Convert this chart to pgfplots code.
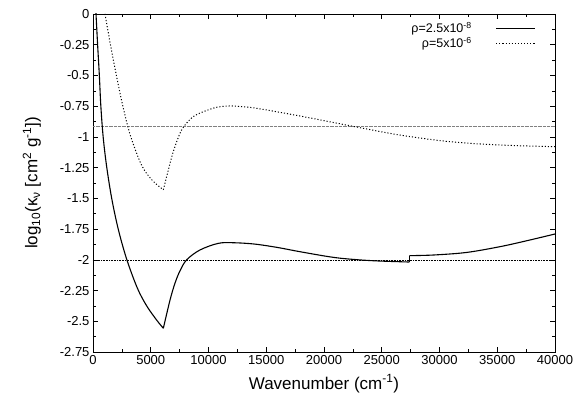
\documentclass[border=0pt]{standalone}
\usepackage{fontspec}
\setmainfont{Liberation Sans}
\usepackage{pgfplots}
\pgfplotsset{compat=1.18}
\begin{document}
\begin{tikzpicture}
\begin{axis}[
  scale only axis,
  width=462pt, height=338pt,
  xmin=0, xmax=40000, ymin=-2.75, ymax=0,
  xtick={0,5000,...,40000},
  ytick={-2.75,-2.5,-2.25,-2,-1.75,-1.5,-1.25,-1,-0.75,-0.5,-0.25,0},
  yticklabels={-2.75,-2.5,-2.25,-2,-1.75,-1.5,-1.25,-1,-0.75,-0.5,-0.25,0},
  minor x tick num=1, minor y tick num=1,
  tick align=inside, tick pos=both,
  major tick length=5pt, minor tick length=3pt,
  scaled x ticks=false,
  /pgf/number format/assume math mode=true,
  /pgf/number format/set thousands separator={},
  tick label style={font=\fontsize{13}{15}\selectfont, black},
  label style={font=\fontsize{17}{19}\selectfont},
  xlabel={Wavenumber (cm\textsuperscript{-1})},
  ylabel={log\textsubscript{10}(κ\textsubscript{ν} [cm\textsuperscript{2} g\textsuperscript{-1}])},
  xlabel style={yshift=-3pt},
  ylabel style={yshift=12pt},
  axis line style={line width=0.9pt},
  every tick/.style={black, line width=0.6pt},
  legend style={draw=none, fill=none, at={(1,1)}, anchor=north east, xshift=-16pt, yshift=-4pt,
    font=\fontsize{12.5}{14}\selectfont, row sep=-1pt, column sep=22pt},
  legend cell align=right,
  legend plot pos=right,
  legend image code/.code={\draw[#1] (0pt,0pt) -- (39pt,0pt);},
  clip=true,
]
% horizontal reference lines
\addplot[forget plot, gray, line width=0.7pt, dash pattern=on 0.6pt off 0.7pt] coordinates {(0,-0.917) (40000,-0.917)};
\addplot[forget plot, black, line width=0.5pt, dash pattern=on 0.6pt off 1pt] coordinates {(0,-2.0) (40000,-2.0)};
% solid curve
\addplot[black, line width=1.1pt, smooth, tension=0.55] coordinates {
(150,0.2) (260,0) (400,-0.25) (550,-0.5) (680,-0.75) (880,-1.0) (1180,-1.24) (1620,-1.5) (2190,-1.752) (2920,-1.996) (3840,-2.23) (4650,-2.375) (5510,-2.49) (6090,-2.557)};
\addlegendentry{ρ=2.5x10\textsuperscript{-8}}
\addplot[forget plot, black, line width=1.1pt, smooth, tension=0.55] coordinates {
(6090,-2.557) (6670,-2.327) (7100,-2.19) (7530,-2.09) (8110,-2.0) (9260,-1.92) (10850,-1.866) (12150,-1.861) (14000,-1.872) (16000,-1.9) (17920,-1.934) (20810,-1.98) (23000,-2.0) (24850,-2.01) (27390,-2.018)};
\addplot[forget plot, black, line width=1.1pt] coordinates {(27390,-2.018) (27390,-1.966)};
\addplot[forget plot, black, line width=1.1pt, smooth, tension=0.55] coordinates {
(27390,-1.966) (29460,-1.961) (32350,-1.94) (35240,-1.893) (37500,-1.846) (40000,-1.79)};
% dotted curve
\addplot[black, line width=1pt, dash pattern=on 1.1pt off 2pt, smooth, tension=0.55] coordinates {
(850,0.1) (1040,0) (1515,-0.252) (2017,-0.496) (2563,-0.74) (3221,-0.984) (4199,-1.228) (5100,-1.35) (6090,-1.43)};
\addlegendentry{ρ=5x10\textsuperscript{-6}}
\addplot[forget plot, black, line width=1pt, dash pattern=on 1.1pt off 2pt, smooth, tension=0.55] coordinates {
(6090,-1.43) (6520,-1.269) (6950,-1.12) (7530,-0.971) (7970,-0.903) (8680,-0.835) (9550,-0.795) (10710,-0.759) (11710,-0.749) (12150,-0.749) (14000,-0.765) (17920,-0.83) (22680,-0.917) (26580,-0.985) (30910,-1.039) (35240,-1.066) (40000,-1.08)};
\end{axis}
\path (current axis.south west) ++(-93pt,-49pt) coordinate (bbA);
\path (current axis.north east) ++(32pt,14pt) coordinate (bbB);
\path (bbA) rectangle (bbB);
\end{tikzpicture}
\end{document}
